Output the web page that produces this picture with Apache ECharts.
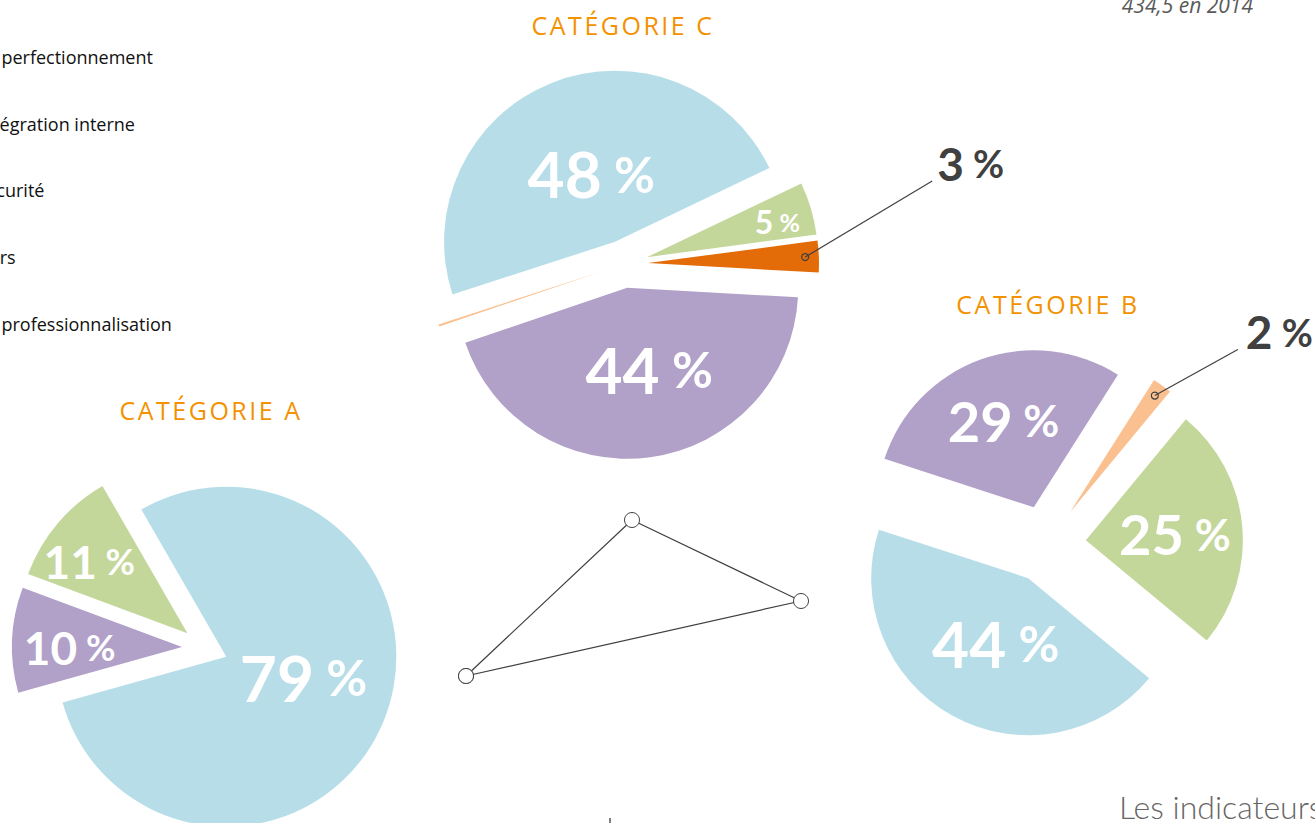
<!DOCTYPE html>
<html><head><meta charset="utf-8">
<script src="https://cdn.jsdelivr.net/npm/echarts@6/dist/echarts.min.js"></script>
<style>html,body{margin:0;padding:0;background:#fff;overflow:hidden}#c{width:1315px;height:823px}</style>
</head><body><div id="c"></div>
<script>
// ---------- DATA ----------
const sliceNames = ['Formation de perfectionnement', "Formation d'intégration interne", 'Formation sécurité', 'Divers', 'Formation de professionnalisation'];
const sliceColors = ['#B7DEE8', '#B1A0C7', '#C4D79B', '#E36C09', '#FAC090'];
const categoryTitles = ['CATÉGORIE A', 'CATÉGORIE B', 'CATÉGORIE C'];
// slices listed clockwise
const catANames = [sliceNames[0], sliceNames[1], sliceNames[2]];
const catAValues = [79, 10, 11];
const catBNames = [sliceNames[1], sliceNames[4], sliceNames[2], sliceNames[0]];
const catBValues = [29, 2, 25, 44];
const catCNames = [sliceNames[0], sliceNames[2], sliceNames[3], sliceNames[1], sliceNames[4]];
const catCValues = [48, 5, 3, 44, 0.2];
const triangleX = [466, 632, 801];
const triangleY = [676, 520, 601];
const totalText = '434,5 en 2014';
const footerText = 'Les indicateurs';

// ---------- LAYOUT / STYLE ----------
const pies = [
  {names: catANames, values: catAValues, title: categoryTitles[0], center: [205, 648], radius: 170, start: 120, offset: 23, titlePos: [211, 410],
   labelRatio: [0.46, 0.65, 0.70], labelNudge: [[2, -10], [1, 5], [-5, 7]]},
  {names: catBNames, values: catBValues, title: categoryTitles[1], center: [1047, 544], radius: 157, start: 162, offset: 39, titlePos: [1048, 304],
   labelRatio: [0.55, 0.5, 0.57, 0.49], labelNudge: [[0, -3], [0, 0], [-3, 2], [6, -5]]},
  {names: catCNames, values: catCValues, title: categoryTitles[2], center: [624, 264], radius: 171, start: 198, offset: 24, titlePos: [623, 25],
   labelRatio: [0.39, 0.79, 0.5, 0.5, 0.5], labelNudge: [[2, -3], [-2, 4], [0, 0], [10, -6], [0, 0]]}
];
const calloutVec = {0: [127, -76], 1: [83, -46], 2: [127, -76]};
const calloutTextShift = {1: [3, 2], 2: [0, 2]};
const LABEL_FONT = 'Lato';
function sizeFor(v) { return v >= 40 ? 64 : v >= 20 ? 56 : v >= 8 ? 46 : 32; }
function colorOf(n) { return sliceColors[sliceNames.indexOf(n)]; }
function midAngle(p, idx) {
  const tot = p.values.reduce((a, b) => a + b, 0);
  let cum = 0; for (let i = 0; i < idx; i++) cum += p.values[i];
  return p.start - (cum + p.values[idx] / 2) / tot * 360;
}
function pointAt(p, idx, rr) {
  const th = midAngle(p, idx) * Math.PI / 180;
  return [p.center[0] + (p.offset + rr) * Math.cos(th), p.center[1] - (p.offset + rr) * Math.sin(th)];
}
const rich = {};
[32, 46, 56, 64].forEach(s => {
  rich['n' + s] = {fontFamily: LABEL_FONT, fontWeight: 'bold', fontSize: s, color: '#fff'};
  rich['p' + s] = {fontFamily: LABEL_FONT, fontWeight: 'bold', fontSize: Math.round(s * 0.78), color: '#fff'};
});

const series = pies.map((p, si) => ({
  type: 'pie', name: p.title, center: p.center, radius: [0, p.radius], startAngle: p.start, clockwise: true,
  selectedMode: 'multiple', selectedOffset: p.offset, avoidLabelOverlap: false, animation: false,
  emphasis: {disabled: true}, itemStyle: {borderWidth: 0},
  labelLine: {show: false},
  label: {show: true, position: 'inside', rich: rich,
    formatter: prm => { const s = sizeFor(prm.value); return '{n' + s + '|' + prm.value + '}{p' + s + '| %}'; }},
  labelLayout: prm => {
    const k = p.labelRatio[prm.dataIndex]; if (k == null) return {};
    const nd = p.labelNudge[prm.dataIndex] || [0, 0];
    const th = midAngle(p, prm.dataIndex) * Math.PI / 180;
    const d = (k - 0.5) * p.radius;
    return {dx: d * Math.cos(th) + nd[0], dy: -d * Math.sin(th) + nd[1]};
  },
  data: p.names.map((n, i) => ({name: n, value: p.values[i], selected: true,
    itemStyle: {color: colorOf(n)}, label: {show: p.values[i] >= 4}}))
}));
series.push({
  type: 'line', animation: false, silent: true,
  data: triangleX.concat([triangleX[0]]).map((x, i) => [x, triangleY.concat([triangleY[0]])[i]]),
  symbol: 'circle', symbolSize: 15, showSymbol: true,
  itemStyle: {color: '#fff', borderColor: '#404040', borderWidth: 1},
  lineStyle: {color: '#404040', width: 1.2}
});

// legend (clipped on the left edge as in the reference)
const mctx = document.createElement('canvas').getContext('2d');
function textW(s, font) { mctx.font = font; return mctx.measureText(s).width; }
const legendFontSize = 18;
const legendCut = ['Formation de ', "Formation d'int", 'Formation sé', 'Dive', 'Formation de '];
const legendVisibleX = [1, 0, -4, 0, 1];
const legendCY = [55, 122, 188, 255, 322];
const legends = sliceNames.map((n, i) => ({
  data: [n], orient: 'vertical', padding: 0, itemWidth: 25, itemHeight: 14, selectedMode: false,
  left: Math.round(legendVisibleX[i] - 30 - textW(legendCut[i], legendFontSize + 'px "Open Sans"')),
  top: legendCY[i] - 7,
  textStyle: {fontFamily: 'Open Sans', fontSize: legendFontSize, color: '#111'}
}));

// graphics: titles, texts, callouts
const graphics = [];
pies.forEach(p => {
  graphics.push({type: 'text', x: p.titlePos[0], y: p.titlePos[1], silent: true, z: 100,
    style: {text: p.title, fill: '#F39200', fontFamily: 'Open Sans', fontSize: 25, align: 'center', verticalAlign: 'middle', textAlign: 'center', textVerticalAlign: 'middle'}});
});
pies.forEach((p, si) => {
  p.values.forEach((v, i) => {
    if (v >= 1 && v < 4) {
      const a = pointAt(p, i, p.radius * 0.92);
      const vec = calloutVec[si];
      const sh = calloutTextShift[si] || [0, 0];
      const b = [a[0] + vec[0], a[1] + vec[1]];
      graphics.push({type: 'line', silent: true, z: 100, shape: {x1: a[0], y1: a[1], x2: b[0], y2: b[1]}, style: {stroke: '#404040', lineWidth: 1.2}});
      graphics.push({type: 'circle', silent: true, z: 101, shape: {cx: a[0], cy: a[1], r: 3.5}, style: {fill: 'none', stroke: '#404040', lineWidth: 1.2}});
      graphics.push({type: 'text', silent: true, z: 100, x: b[0] + 5 + sh[0], y: b[1] - 20 + sh[1],
        style: {text: '{n|' + v + '}{p| %}', align: 'left', verticalAlign: 'middle', textAlign: 'left', textVerticalAlign: 'middle',
          rich: {n: {fontFamily: LABEL_FONT, fontWeight: 'bold', fontSize: 46, fill: '#404040', color: '#404040'},
                 p: {fontFamily: LABEL_FONT, fontWeight: 'bold', fontSize: 38, fill: '#404040', color: '#404040'}}}});
    }
  });
});
graphics.push({type: 'text', silent: true, z: 100, x: 1253, y: 5,
  style: {text: totalText, fill: '#595959', fontFamily: 'Open Sans', fontStyle: 'italic', fontSize: 21, align: 'right', verticalAlign: 'middle', textAlign: 'right', textVerticalAlign: 'middle'}});
graphics.push({type: 'text', silent: true, z: 100, x: 1119, y: 806,
  style: {text: footerText, fill: '#666', fontFamily: 'Lato', fontWeight: 300, fontSize: 32, align: 'left', verticalAlign: 'middle', textAlign: 'left', textVerticalAlign: 'middle'}});
graphics.push({type: 'line', silent: true, z: 100, shape: {x1: 610, y1: 818, x2: 610, y2: 823}, style: {stroke: '#555', lineWidth: 1.5}});

const option = {
  backgroundColor: '#fff', animation: false,
  grid: {left: 0, right: 0, top: 0, bottom: 0, show: false},
  xAxis: {type: 'value', min: 0, max: 1315, show: false},
  yAxis: {type: 'value', min: 0, max: 823, inverse: true, show: false},
  legend: legends,
  series: series,
  graphic: {elements: graphics}
};
const dom = document.getElementById('c');
const chart = echarts.init(dom, null, {renderer: 'svg'});
chart.setOption(option);
function applySpacing() {
  dom.querySelectorAll('text').forEach(t => { if (t.textContent.indexOf('CATÉGORIE') === 0) t.setAttribute('letter-spacing', '2.5px'); });
}
applySpacing(); chart.on('finished', applySpacing); setTimeout(applySpacing, 30);
</script></body></html>
